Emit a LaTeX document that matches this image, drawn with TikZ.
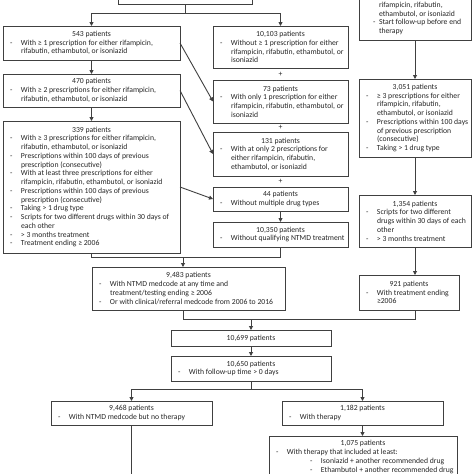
\documentclass[tikz,border=0pt]{standalone}
\usepackage{fontspec}
\setmainfont{Carlito}
\usetikzlibrary{arrows.meta}
\definecolor{linec}{HTML}{404040}
\definecolor{txtc}{HTML}{262626}
\newcommand\boxT[1]{\hbox to\hsize{\hss #1\hss}}
\newcommand\boxD[1]{\hbox to\hsize{\hspace*{7pt}\makebox[11pt][l]{-}#1\hss}}
\newcommand\boxC[1]{\hbox to\hsize{\hspace*{18pt}#1\hss}}
\newcommand\boxS[1]{\hbox to\hsize{\hspace*{41pt}\makebox[11pt][l]{-}#1\hss}}
\newcommand\bx[6]{\node[box, minimum width={#4pt-#2pt}, minimum height={#5pt-#3pt}] (#1) at (#2,#3) {\vbox{\hsize=\dimexpr#4pt-#2pt\relax #6}};}
\begin{document}
\begin{tikzpicture}[x=1pt,y=-1pt,
  box/.style={draw=linec, line width=0.9pt, anchor=north west, inner sep=0pt, outer sep=0pt, text=txtc, font=\fontsize{7.7}{8.75}\selectfont},
  ln/.style={draw=linec, line width=0.9pt},
  arr/.style={ln, -{Triangle[length=4pt,width=4pt]}},
  plus/.style={text=txtc, font=\fontsize{7.7}{8.75}\selectfont, inner sep=0pt}]
\fill[white] (0,0) rectangle (474,474);
\useasboundingbox (0,0) rectangle (474,474);
\clip (0,0) rectangle (474,474);
% top, cut boxes
\bx{tl}{118}{-30}{252}{4}{}
\bx{tr}{359}{-3}{471}{40}{%
  \hbox to\hsize{\hspace*{20pt}rifampicin, rifabutin,\hss}%
  \hbox to\hsize{\hspace*{20pt}ethambutol, or isoniazid\hss}%
  \hbox to\hsize{\hspace*{14pt}\makebox[6pt][l]{-}Start follow-up before end\hss}%
  \hbox to\hsize{\hspace*{20pt}therapy\hss}}
% left column
\bx{b543}{3}{26}{180}{60}{\boxT{543 patients}\boxD{With ≥ 1 prescription for either rifampicin,}\boxC{rifabutin, ethambutol, or isoniazid}}
\bx{b470}{3}{74}{180}{107}{\boxT{470 patients}\boxD{With ≥ 2 prescriptions for either rifampicin,}\boxC{rifabutin, ethambutol, or isoniazid}}
\bx{b339}{3}{121}{180}{253}{\boxT{339 patients}%
  \boxD{With ≥ 3 prescriptions for either rifampicin,}\boxC{rifabutin, ethambutol, or isoniazid}%
  \boxD{Prescriptions within 100 days of previous}\boxC{prescription (consecutive)}%
  \boxD{With at least three prescriptions for either}\boxC{rifampicin, rifabutin, ethambutol, or isoniazid}%
  \boxD{Prescriptions within 100 days of previous}\boxC{prescription (consecutive)}%
  \boxD{Taking > 1 drug type}%
  \boxD{Scripts for two different drugs within 30 days of}\boxC{each other}%
  \boxD{> 3 months treatment}%
  \boxD{Treatment ending ≥ 2006}}
% middle column
\bx{b10103}{213}{26}{348}{68}{\boxT{10,103 patients}\boxD{Without ≥ 1 prescription for either}\boxC{rifampicin, rifabutin, ethambutol, or}\boxC{isoniazid}}
\bx{b73}{213}{80}{348}{123}{\boxT{73 patients}\boxD{With only 1 prescription for either}\boxC{rifampicin, rifabutin, ethambutol, or}\boxC{isoniazid}}
\bx{b131}{213}{132}{348}{176}{\boxT{131 patients}\boxD{With at only 2 prescriptions for}\boxC{either rifampicin, rifabutin,}\boxC{ethambutol, or isoniazid}}
\bx{b44}{213}{187}{348}{211}{\boxT{44 patients}\boxD{Without multiple drug types}}
\bx{b10350}{213}{222}{348}{247}{\boxT{10,350 patients}\boxD{Without qualifying NTMD treatment}}
\node[plus] (p1) at (280.5,74) {+};
\node[plus] (p2) at (280.5,127.5) {+};
\node[plus] (p3) at (280.5,181.5) {+};
% right column
\bx{b3051}{359}{79}{471}{157}{\boxT{3,051 patients}\boxD{≥ 3 prescriptions for either}\boxC{rifampicin, rifabutin,}\boxC{ethambutol, or isoniazid}\boxD{Prescriptions within 100 days}\boxC{of previous prescription}\boxC{(consecutive)}\boxD{Taking > 1 drug type}}
\bx{b1354}{359}{195}{471}{247}{\boxT{1,354 patients}\boxD{Scripts for two different}\boxC{drugs within 30 days of each}\boxC{other}\boxD{> 3 months treatment}}
\bx{b921}{359}{275}{459}{310}{\boxT{921 patients}\boxD{With treatment ending}\boxC{≥2006}}
% lower part
\bx{b9483}{92}{267}{285}{310}{\boxT{9,483 patients}\boxD{With NTMD medcode at any time and}\boxC{treatment/testing ending ≥ 2006}\boxD{Or with clinical/referral medcode from 2006 to 2016}}
\bx{b10699}{171}{330}{331}{346}{\boxT{10,699 patients}}
\bx{b10650}{171}{356}{331}{381}{\boxT{10,650 patients}\boxD{With follow-up time > 0 days}}
\bx{b9468}{51}{401}{212}{425}{\boxT{9,468 patients}\boxD{With NTMD medcode but no therapy}}
\bx{b1182}{282}{401}{443}{425}{\boxT{1,182 patients}\boxD{With therapy}}
\bx{b1075}{269}{436}{457}{478}{\boxT{1,075 patients}\boxD{With therapy that included at least:}\boxS{Isoniazid + another recommended drug}\boxS{Ethambutol + another recommended drug}}
% connectors
\coordinate (j1) at (185,13);
\draw[ln] (tl.south) -- (j1);
\draw[arr] (j1) -| (b543.north);
\draw[arr] (j1) -| (b10103.north);
\draw[arr] (b543) -- (b470);
\draw[arr] (b470) -- (b339);
\draw[arr] (b543.east) -- (b73.west);
\draw[arr] (b470.east) -- (b131.west);
\draw[arr] (b339.east) -- (b44.west);
\draw[arr] (b44) -- (b10350);
\draw[ln] (b339.south) -- ++(0,4) -| (b10350.south);
\coordinate (j3) at (183,257);
\draw[arr] (j3) -- (j3 |- b9483.north);
\draw[arr] (tr.south) -- (b3051.north);
\draw[arr] (b3051) -- (b1354);
\draw[arr] (b1354.south) -- (b1354.south |- b921.north);
\coordinate (j4) at (251,319);
\draw[ln] (b1354.south |- b921.south) |- (j4);
\draw[ln] (j3 |- b9483.south) |- (j4);
\draw[arr] (j4) -- (b10699.north);
\draw[arr] (b10699) -- (b10650);
\coordinate (j5) at (251,389);
\draw[ln] (b10650.south) -- (j5);
\draw[arr] (j5) -| (b9468.north);
\draw[arr] (j5) -| (b1182.north);
\draw[ln] (b9468.south) -- ++(0,60);
\draw[arr] (b1182.south) -- (b1182.south |- b1075.north);
\end{tikzpicture}
\end{document}
